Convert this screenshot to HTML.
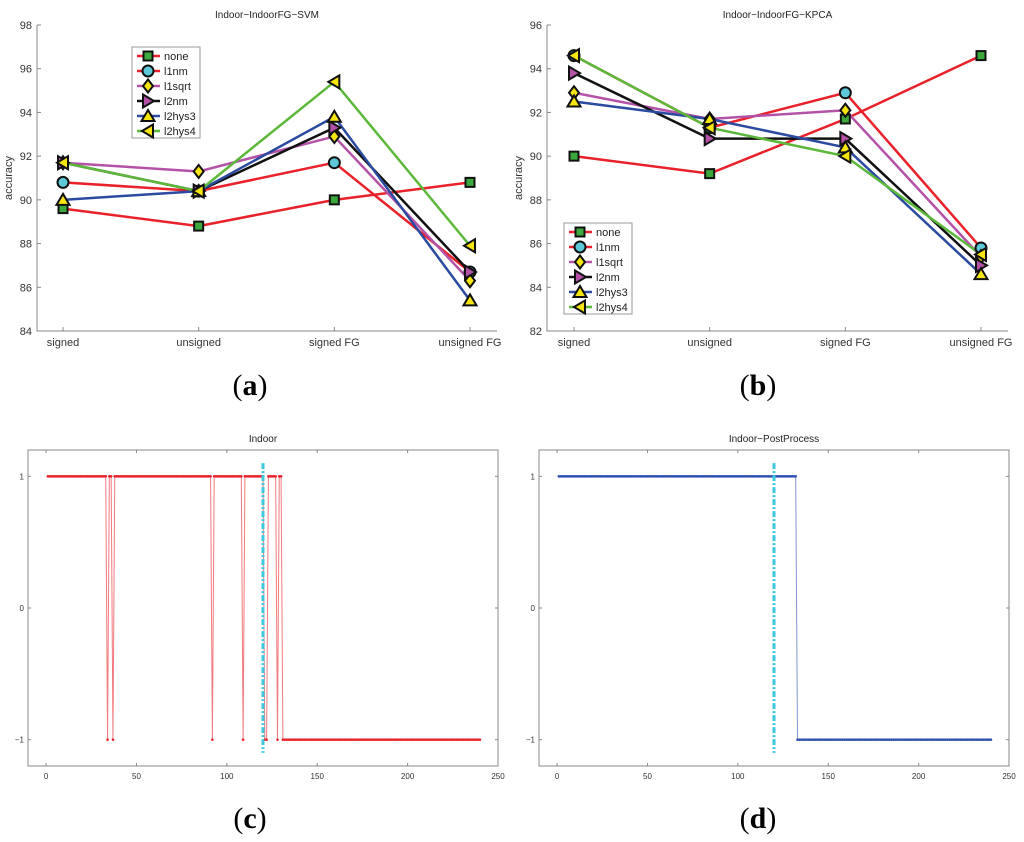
<!DOCTYPE html>
<html><head><meta charset="utf-8"><style>
body{margin:0;background:#fff;}
svg{display:block;font-family:"Liberation Sans",Arial,sans-serif;}
</style></head><body>
<svg id="fig" width="1024" height="842" viewBox="0 0 1024 842" xmlns="http://www.w3.org/2000/svg"></svg>
<script>
const categories = ["signed","unsigned","signed FG","unsigned FG"];
const seriesNames = ["none","l1nm","l1sqrt","l2nm","l2hys3","l2hys4"];
const svmNone   = [89.6, 88.8, 90.0, 90.8];
const svmL1nm   = [90.8, 90.4, 91.7, 86.7];
const svmL1sqrt = [91.7, 91.3, 92.9, 86.3];
const svmL2nm   = [91.7, 90.4, 93.3, 86.7];
const svmL2hys3 = [90.0, 90.4, 93.8, 85.4];
const svmL2hys4 = [91.7, 90.4, 95.4, 87.9];
const kpcaNone   = [90.0, 89.2, 91.7, 94.6];
const kpcaL1nm   = [94.6, 91.3, 92.9, 85.8];
const kpcaL1sqrt = [92.9, 91.7, 92.1, 85.4];
const kpcaL2nm   = [93.8, 90.8, 90.8, 85.0];
const kpcaL2hys3 = [92.5, 91.7, 90.4, 84.6];
const kpcaL2hys4 = [94.6, 91.3, 90.0, 85.5];
const svmTicks = [84,86,88,90,92,94,96,98];
const kpcaTicks = [82,84,86,88,90,92,94,96];
const indoorNeg = [34,37,92,109,121,122,128];
const indoorSwitch = 131;
const postSwitch = 133;
const nSamples = 240;
const gtLine = 120;
const binTicksX = [0,50,100,150,200,250];
const binTicksY = [-1,0,1];

const NS="http://www.w3.org/2000/svg";
const svg=document.getElementById('fig');
function mk(tag,attrs,parent){const e=document.createElementNS(NS,tag);for(const k in attrs)e.setAttribute(k,attrs[k]);(parent||svg).appendChild(e);return e;}
function txt(x,y,s,attrs,parent){const t=mk('text',Object.assign({x:x,y:y},attrs),parent);t.textContent=s;return t;}

const colors=["#e8212a","#e8212a","#b452a8","#111111","#2b4aa0","#5cb83a"];
const fills=["#3aa83a","#5cc8d8","#f5e612","#b452a8","#f5e612","#f5e612"];
const shapes=["square","circle","diamond","right","up","left"];

function marker(g,shape,x,y,fill){
  const s=6.5;let e;
  if(shape==="square")e=mk('rect',{x:x-4.5,y:y-4.5,width:9,height:9},g);
  else if(shape==="circle")e=mk('circle',{cx:x,cy:y,r:5.5},g);
  else if(shape==="diamond")e=mk('polygon',{points:`${x},${y-s} ${x+5},${y} ${x},${y+s} ${x-5},${y}`},g);
  else if(shape==="right")e=mk('polygon',{points:`${x-5},${y-s} ${x+6},${y} ${x-5},${y+s}`},g);
  else if(shape==="left")e=mk('polygon',{points:`${x+5},${y-s} ${x-6},${y} ${x+5},${y+s}`},g);
  else e=mk('polygon',{points:`${x-s},${y+5} ${x},${y-6} ${x+s},${y+5}`},g);
  e.setAttribute('fill',fill);e.setAttribute('stroke','#111');e.setAttribute('stroke-width','2');
  return e;
}

function lineChart(opt){
  const g=mk('g',{});
  
  
  const {L,R,T,B,ymin,ymax,cx}=opt;
  const ys=v=>B-(v-ymin)/(ymax-ymin)*(B-T);
  const xs=i=>cx[0]+i*(cx[1]-cx[0])/(categories.length-1);
  mk('path',{d:`M${L},${T} L${L},${B} L${R},${B}`,fill:'none',stroke:'#888','stroke-width':1},g);
  opt.ticks.forEach(t=>{
    const y=ys(t);
    mk('line',{x1:L,y1:y,x2:L+4,y2:y,stroke:'#888'},g);
    const lb=txt(L-5,y+4,String(t),{'font-size':11,'text-anchor':'end',fill:'#333'},g);
    
  });
  categories.forEach((c,i)=>{
    const x=xs(i);
    mk('line',{x1:x,y1:B,x2:x,y2:B-4,stroke:'#888'},g);
    const lb=txt(x,B+15,c,{'font-size':11,'text-anchor':'middle',fill:'#333'},g);
    
  });
  const tt=txt((L+R)/2,18,opt.title,{'font-size':10,'text-anchor':'middle',fill:'#222'},g);
  
  const yt=txt(0,0,'accuracy',{'font-size':11,'text-anchor':'middle',fill:'#333',transform:`translate(${L-25},${(T+B)/2}) rotate(-90)`},g);
  
  opt.data.forEach((d,si)=>{
    const sg=mk('g',{},g);
    
    
    mk('polyline',{points:d.map((v,i)=>xs(i)+','+ys(v)).join(' '),fill:'none',stroke:colors[si],'stroke-width':2.5},sg);
  });
  opt.data.forEach((d,si)=>{
    d.forEach((v,i)=>{
      const m=marker(g,shapes[si],xs(i),ys(v),fills[si]);
      
      
    });
  });
  const lg=mk('g',{},g);
  
  
  const lx=opt.legend[0],ly=opt.legend[1];
  mk('rect',{x:lx,y:ly,width:68,height:91,fill:'#fff',stroke:'#999'},lg);
  seriesNames.forEach((n,si)=>{
    const y=ly+9+si*15;
    const e=mk('g',{},lg);
    
    
    mk('line',{x1:lx+5,y1:y,x2:lx+28,y2:y,stroke:colors[si],'stroke-width':2.5},e);
    marker(e,shapes[si],lx+16,y,fills[si]);
    txt(lx+32,y+4,n,{'font-size':11,fill:'#222'},e);
  });
  return g;
}

lineChart({name:'chart-svm',title:'Indoor−IndoorFG−SVM',L:37,R:497,T:25,B:331,ymin:84,ymax:98,cx:[63,470],ticks:svmTicks,legend:[132,47],
  data:[svmNone,svmL1nm,svmL1sqrt,svmL2nm,svmL2hys3,svmL2hys4]});
lineChart({name:'chart-kpca',title:'Indoor−IndoorFG−KPCA',L:547,R:1008,T:25,B:331,ymin:82,ymax:96,cx:[574,981],ticks:kpcaTicks,legend:[564,223],
  data:[kpcaNone,kpcaL1nm,kpcaL1sqrt,kpcaL2nm,kpcaL2hys3,kpcaL2hys4]});

function binChart(opt){
  const g=mk('g',{});
  
  
  const {L,R,T,B}=opt;
  const xs=v=>L+(v+10)/260*(R-L);
  const ys=v=>B-(v+1.2)/2.4*(B-T);
  mk('rect',{x:L,y:T,width:R-L,height:B-T,fill:'none',stroke:'#888'},g);
  binTicksX.forEach(t=>{
    const x=xs(t);
    mk('line',{x1:x,y1:B,x2:x,y2:B-3,stroke:'#888'},g);
    mk('line',{x1:x,y1:T,x2:x,y2:T+3,stroke:'#888'},g);
    const lb=txt(x,B+13,String(t),{'font-size':8,'text-anchor':'middle',fill:'#333'},g);
    
  });
  binTicksY.forEach(t=>{
    const y=ys(t);
    mk('line',{x1:L,y1:y,x2:L+3,y2:y,stroke:'#888'},g);
    mk('line',{x1:R,y1:y,x2:R-3,y2:y,stroke:'#888'},g);
    const lb=txt(L-4,y+3,t===-1?'−1':String(t),{'font-size':8,'text-anchor':'end',fill:'#333'},g);
    
  });
  const tt=txt((L+R)/2,442,opt.title,{'font-size':10,'text-anchor':'middle',fill:'#222'},g);
  
  const pts=opt.values.map((v,i)=>xs(i+1)+','+ys(v)).join(' ');
  const ln=mk('polyline',{points:pts,fill:'none',stroke:opt.color,'stroke-width':1,'stroke-opacity':0.6},g);
  
  const dots=mk('g',{fill:opt.color},g);
  
  
  opt.values.forEach((v,i)=>{mk('circle',{cx:xs(i+1),cy:ys(v),r:1.3},dots);});
  const gl=mk('line',{x1:xs(gtLine),y1:ys(1.1),x2:xs(gtLine),y2:ys(-1.1),stroke:'#3ec8dc','stroke-width':3,'stroke-dasharray':'6 2 2 2'},g);
  
}
const indoorVals=[],postVals=[];
for(let i=1;i<=nSamples;i++){
  indoorVals.push(i>=indoorSwitch||indoorNeg.includes(i)?-1:1);
  postVals.push(i>=postSwitch?-1:1);
}
binChart({name:'chart-indoor',title:'Indoor',L:28,R:498,T:450,B:766,values:indoorVals,color:'#e8212a'});
binChart({name:'chart-postprocess',title:'Indoor−PostProcess',L:539,R:1009,T:450,B:766,values:postVals,color:'#3050b0'});

[['(a)',250,395],['(b)',758,395],['(c)',250,828],['(d)',758,828]].forEach(p=>{
  const t=mk('text',{x:p[1],y:p[2],'font-size':30,'text-anchor':'middle','font-family':'Liberation Serif, serif'});
  
  
  t.appendChild(document.createTextNode('('));
  const b=mk('tspan',{'font-weight':'bold'},t);b.textContent=p[0][1];
  t.appendChild(document.createTextNode(')'));
});
</script>
</body></html>
